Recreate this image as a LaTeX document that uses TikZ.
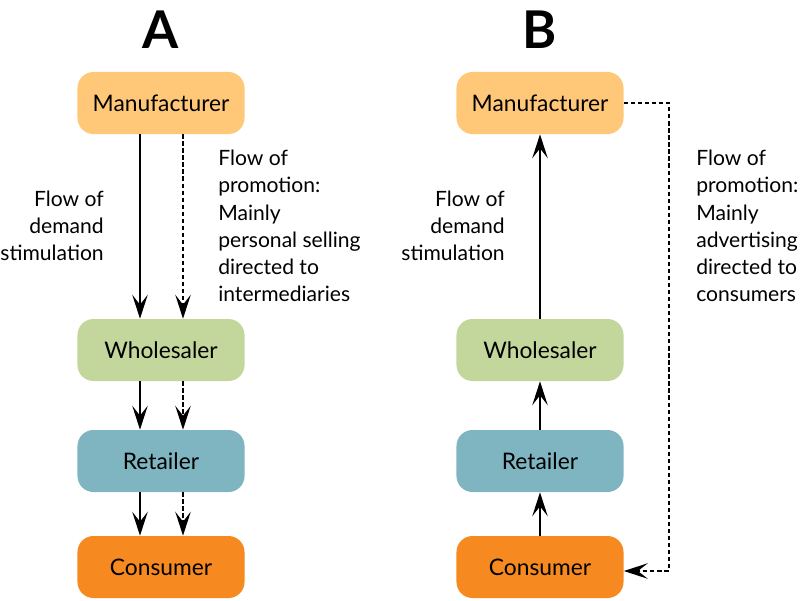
\documentclass[tikz,border=0pt]{standalone}
\usepackage{fontspec}
\setmainfont{Lato}
\usetikzlibrary{arrows.meta}
\definecolor{manuf}{HTML}{FFC878}
\definecolor{whole}{HTML}{C3D69B}
\definecolor{retail}{HTML}{7FB5C1}
\definecolor{consum}{HTML}{F68A20}
\begin{document}
\begin{tikzpicture}[x=0.025cm,y=-0.025cm,
  box/.style={rounded corners=0.4cm,minimum width=4.175cm,minimum height=1.55cm,font=\fontsize{16.2}{18}\selectfont},
  flow/.style={line width=1.6pt,-{Stealth[length=17pt,width=11pt,inset=7pt]}},
  promo/.style={flow,dash pattern=on 3pt off 2pt},
  lbl/.style={inner sep=0pt,font=\fontsize{15}{19.4}\selectfont}]
\useasboundingbox (0,0) rectangle (800,600);
\node[font=\fontsize{37}{37}\selectfont\bfseries] (titleA) at (161,30) {A};
\node[font=\fontsize{37}{37}\selectfont\bfseries] (titleB) at (540,30) {B};

\node[box,fill=manuf] (mA) at (161,103) {Manufacturer};
\node[box,fill=whole] (wA) at (161,350) {Wholesaler};
\node[box,fill=retail] (rA) at (161,461) {Retailer};
\node[box,fill=consum] (cA) at (161,567) {Consumer};

\node[box,fill=manuf] (mB) at (540,103) {Manufacturer};
\node[box,fill=whole] (wB) at (540,350) {Wholesaler};
\node[box,fill=retail] (rB) at (540,461) {Retailer};
\node[box,fill=consum] (cB) at (540,567) {Consumer};

\draw[flow] ([xshift=-0.525cm]mA.south) -- ([xshift=-0.525cm]wA.north);
\draw[flow] ([xshift=-0.525cm]wA.south) -- ([xshift=-0.525cm]rA.north);
\draw[flow] ([xshift=-0.525cm]rA.south) -- ([xshift=-0.525cm]cA.north);
\draw[promo] ([xshift=0.55cm]mA.south) -- ([xshift=0.55cm]wA.north);
\draw[promo] ([xshift=0.55cm]wA.south) -- ([xshift=0.55cm]rA.north);
\draw[promo] ([xshift=0.55cm]rA.south) -- ([xshift=0.55cm]cA.north);

\draw[flow] (cB) -- (rB);
\draw[flow] (rB) -- (wB);
\draw[flow] (wB) -- (mB);
\draw[promo] (mB.east) -- ++(45,0) |- ([yshift=-0.1cm]cB.east);

\node[lbl,align=right,anchor=east] (demA) at (104,226) {Flow of\\demand\\stimulation};
\node[lbl,align=left,anchor=west] (promA) at (218,226) {Flow of\\promotion:\\Mainly\\personal selling\\directed to\\intermediaries};
\node[lbl,align=right,anchor=east] (demB) at (505,226) {Flow of\\demand\\stimulation};
\node[lbl,align=left,anchor=west] (promB) at (696,226) {Flow of\\promotion:\\Mainly\\advertising\\directed to\\consumers};
\end{tikzpicture}
\end{document}
